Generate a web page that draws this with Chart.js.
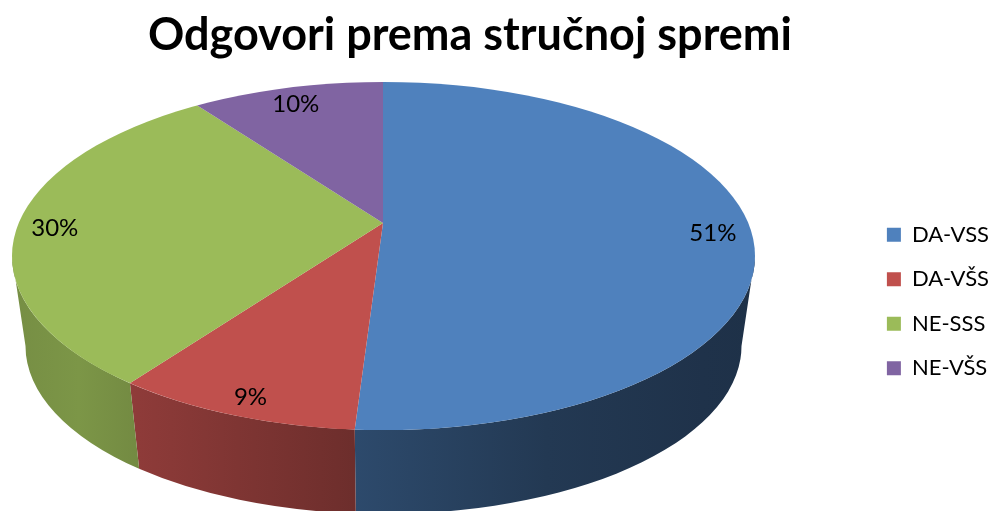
<!DOCTYPE html>
<html>
<head>
<meta charset="utf-8">
<title>Odgovori prema stručnoj spremi</title>
<script src="https://cdn.jsdelivr.net/npm/chart.js@4.4.1/dist/chart.umd.min.js"></script>
<style>
  html, body { margin: 0; padding: 0; background: #fff; }
  #wrap { width: 991px; height: 511px; }
</style>
</head>
<body>
<div id="wrap"><canvas id="pieChart" width="991" height="511"></canvas></div>
<script>
const chartTitle = 'Odgovori prema stručnoj spremi';
const categories = ['DA-VSS', 'DA-VŠS', 'NE-SSS', 'NE-VŠS'];
const shares = [51, 9, 30, 10];
const sliceColors = ['#4F81BD', '#C0504D', '#9BBB59', '#8064A2'];

// how the pie is tilted on screen (px)
const view = {
    apexX: 383, apexY: 223,      // point where the slices meet
    axisX: 364.7, axisY: 167.7,  // tilted circle radii seen from the apex
    persp: -0.19,                // foreshortening, front bigger than back
    rimX: 383.5, rimY: 256, rimRx: 371.5, rimRy: 174, // top face outline
    baseY: 346, baseRx: 358, baseRy: 168               // lower rim of the side
};
// darkening of the side wall from left to right
const sideShade = [[0, 0.76], [0.09, 0.8], [0.17, 0.74], [0.46, 0.57], [0.72, 0.44], [0.93, 0.39], [1, 0.38]];

function shade(hex, m) {
    const n = parseInt(hex.slice(1), 16);
    const r = Math.round(((n >> 16) & 255) * m);
    const g = Math.round(((n >> 8) & 255) * m);
    const b = Math.round((n & 255) * m);
    return `rgb(${r}, ${g}, ${b})`;
}

// where a slice edge (angle seen from the apex) meets the top outline, as ellipse parameter
function rimParam(angle) {
    const ex = (view.apexX - view.rimX) / view.rimRx;
    const ey = (view.apexY - view.rimY) / view.rimRy;
    const dx = view.axisX * Math.cos(angle) / view.rimRx;
    const dy = view.axisY * Math.sin(angle) / view.rimRy;
    const a = dx * dx + dy * dy;
    const b = 2 * (ex * dx + ey * dy);
    const c = ex * ex + ey * ey - 1;
    const t = (-b + Math.sqrt(b * b - 4 * a * c)) / (2 * a);
    return Math.atan2(ey + t * dy, ex + t * dx);
}

const tiltPlugin = {
    id: 'tilt',
    beforeDatasetsDraw(chart) {
        const ctx = chart.ctx;
        const arcs = chart.getDatasetMeta(0).data;

        // side wall, only the front half is visible
        arcs.forEach((arc, i) => {
            let p0 = rimParam(arc.startAngle);
            let p1 = rimParam(arc.endAngle);
            while (p1 < p0) p1 += Math.PI * 2;
            const grad = ctx.createLinearGradient(view.rimX - view.rimRx, 0, view.rimX + view.rimRx, 0);
            sideShade.forEach(([pos, m]) => grad.addColorStop(pos, shade(sliceColors[i], m)));
            for (let k = -1; k <= 1; k++) {
                const lo = Math.max(p0, k * Math.PI * 2);
                const hi = Math.min(p1, k * Math.PI * 2 + Math.PI);
                if (hi <= lo) continue;
                ctx.beginPath();
                ctx.ellipse(view.rimX, view.rimY, view.rimRx, view.rimRy, 0, lo, hi);
                ctx.ellipse(view.rimX, view.baseY, view.baseRx, view.baseRy, 0, hi, lo, true);
                ctx.closePath();
                ctx.fillStyle = grad;
                ctx.fill();
            }
        });

        // top face: slices drawn by Chart.js, squashed and clipped to the outline
        const {x, y, outerRadius} = arcs[0];
        ctx.save();
        ctx.beginPath();
        ctx.ellipse(view.rimX, view.rimY, view.rimRx, view.rimRy, 0, 0, Math.PI * 2);
        ctx.clip();
        ctx.translate(view.apexX, view.apexY);
        ctx.scale(view.axisX * 1.5 / outerRadius, view.axisY * 1.5 / outerRadius);
        ctx.translate(-x, -y);
    },
    afterDatasetsDraw(chart) {
        const ctx = chart.ctx;
        ctx.restore();

        const arcs = chart.getDatasetMeta(0).data;
        const total = shares.reduce((s, v) => s + v, 0);
        ctx.save();
        ctx.font = '24px Lato';
        ctx.fillStyle = '#000';
        ctx.textAlign = 'center';
        ctx.textBaseline = 'middle';
        arcs.forEach((arc, i) => {
            const mid = (arc.startAngle + arc.endAngle) / 2;
            const u = 0.9 * Math.cos(mid);
            const v = 0.9 * Math.sin(mid);
            const den = 1 + view.persp * v;
            const lx = view.apexX + view.axisX * u / den;
            const ly = view.apexY + view.axisY * v / den + 5;
            ctx.fillText(Math.round(shares[i] / total * 100) + '%', lx, ly);
        });
        ctx.restore();
    }
};

new Chart(document.getElementById('pieChart'), {
    type: 'pie',
    data: {
        labels: categories,
        datasets: [{
            data: shares,
            backgroundColor: sliceColors,
            borderWidth: 0,
            clip: false
        }]
    },
    options: {
        responsive: false,
        animation: false,
        devicePixelRatio: 1,
        layout: { padding: { left: 148, right: -8 } },
        plugins: {
            title: {
                display: true,
                text: chartTitle,
                align: 'start',
                color: '#000',
                font: { family: 'Lato', size: 45, weight: 'bold' },
                padding: { top: 8, bottom: 30 }
            },
            legend: {
                position: 'right',
                fullSize: false,
                labels: {
                    color: '#000',
                    font: { family: 'Lato', size: 22 },
                    boxWidth: 14,
                    boxHeight: 14,
                    padding: 22.5
                }
            },
            tooltip: { enabled: false }
        }
    },
    plugins: [tiltPlugin]
});
</script>
</body>
</html>
